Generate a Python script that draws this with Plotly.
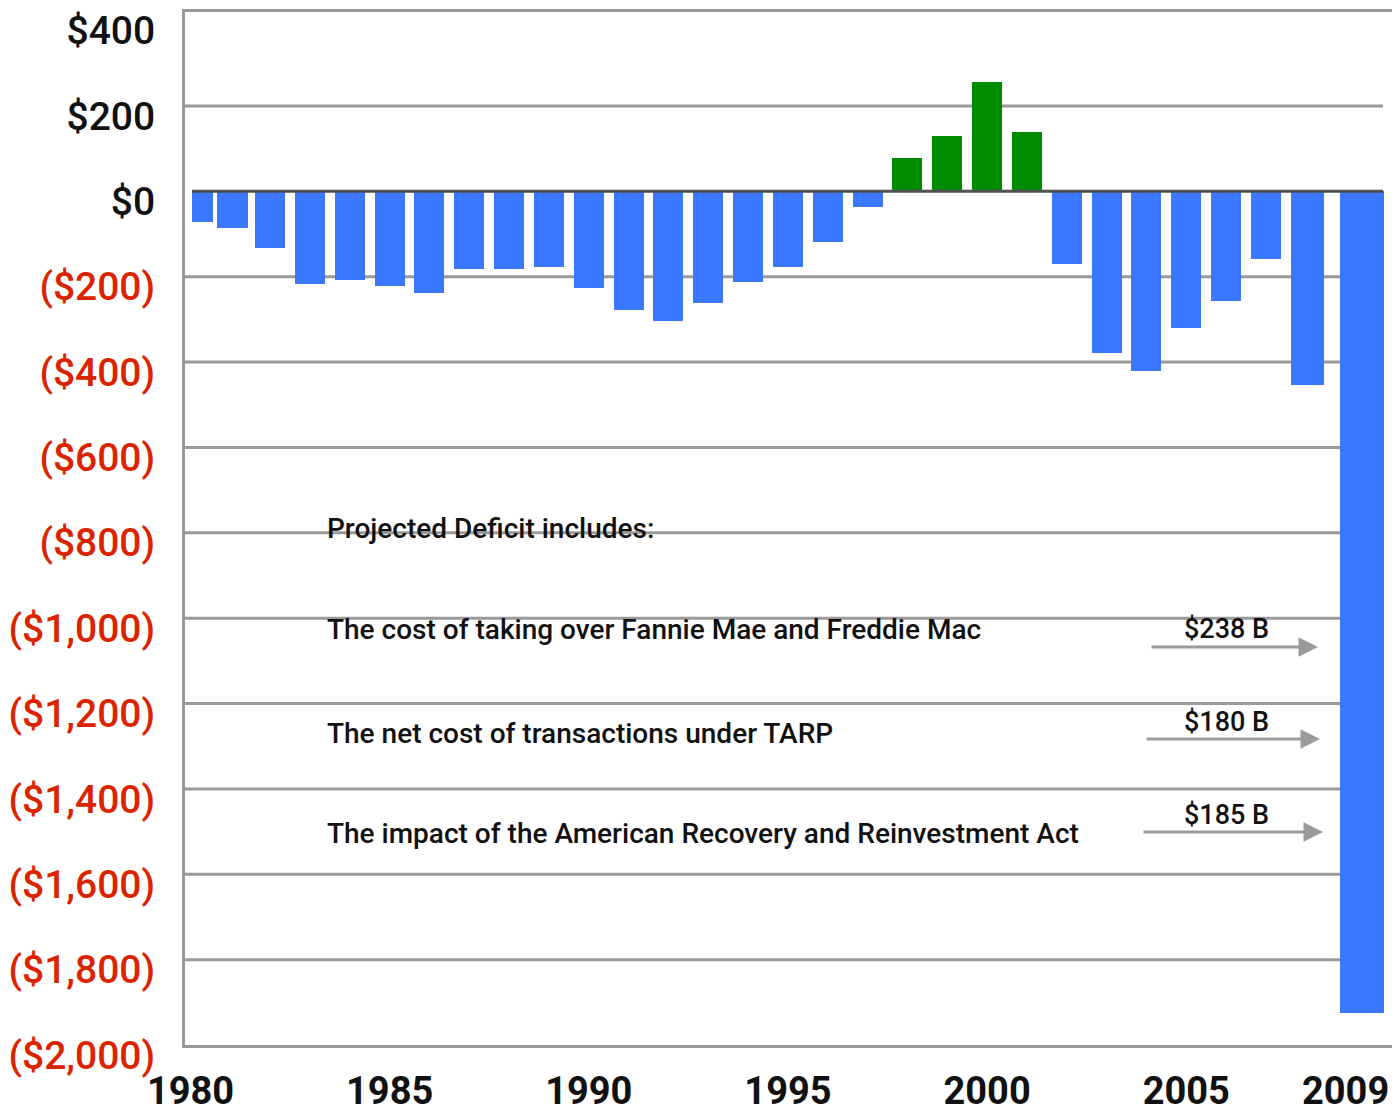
import plotly.graph_objects as go

# ---------------- data ----------------
years = list(range(1980, 2010))
deficits = [-72, -86, -132, -217, -208, -221, -239, -181, -181, -178,
            -226, -277, -303, -261, -213, -178, -118, -36, 77, 130,
            256, 138, -171, -380, -421, -320, -256, -159, -453, -1925]

y_tick_values = [400, 200, 0, -200, -400, -600, -800, -1000, -1200,
                 -1400, -1600, -1800, -2000]
x_tick_values = [1980, 1985, 1990, 1995, 2000, 2005, 2009]

note_title = "Projected Deficit includes:"
note_items = ["The cost of taking over Fannie Mae and Freddie Mac",
              "The net cost of transactions under TARP",
              "The impact of the American Recovery and Reinvestment Act"]
note_amounts = ["$238 B", "$180 B", "$185 B"]

# ---------------- styling ----------------
BODY = 8                      # default page margin around the plot div
W_DIV, H_DIV = 1400 - BODY, 1113 - BODY
P_LEFT, P_RIGHT, P_TOP, P_BOTTOM = 185, 1396, 12, 1045   # plot area on the page
L = P_LEFT - BODY
R = W_DIV + BODY - P_RIGHT
T = P_TOP - BODY
B = H_DIV + BODY - P_BOTTOM

PX_PER_YEAR = 39.83
X_RANGE = [1983 - (310 - P_LEFT) / PX_PER_YEAR, 1983 + (P_RIGHT - 310) / PX_PER_YEAR]
Y_RANGE = [-2000, 420]

BLUE = "#3B78FF"
GREEN = "#008C00"
RED = "#DC2300"
GRID = "#9A9A9A"
FONT = "Roboto, Liberation Sans, sans-serif"

bar_width_px = [21, 31] + [30] * 26 + [33, 44]
bar_offset_px = [1.5, -13.3, -15.2] + [-15] * 25 + [-14.8, -5.6]
widths = [w / PX_PER_YEAR for w in bar_width_px]
offsets = [o / PX_PER_YEAR for o in bar_offset_px]
colors = [GREEN if v > 0 else BLUE for v in deficits]


def fmt(v):
    if v >= 0:
        return f"${v:,}"
    return f'<span style="color:{RED}">(${-v:,})</span>'


fig = go.Figure()
fig.add_trace(go.Bar(x=years, y=deficits, width=widths, offset=offsets,
                     marker=dict(color=colors, line=dict(width=0)),
                     hoverinfo="x+y"))

pw = P_RIGHT - P_LEFT
ph = P_BOTTOM - P_TOP


def px_x(px):
    return (px - P_LEFT) / pw


def px_y(py):
    return (P_BOTTOM - py) / ph


shapes = []
for v in y_tick_values:
    if v in (0, 400, -2000):
        continue
    shapes.append(dict(type="line", xref="paper", yref="y", x0=0, x1=px_x(1383),
                       y0=v, y1=v, line=dict(color=GRID, width=3), layer="below"))
shapes.append(dict(type="line", xref="paper", yref="y", x0=px_x(192), x1=px_x(1383),
                   y0=0, y1=0, line=dict(color="#505050", width=3), layer="above"))

note_font = dict(family=FONT, size=28, color="#111", weight=500)
amt_font = dict(family=FONT, size=27, color="#111", weight=500)
annotations = []
annotations.append(dict(xref="paper", yref="paper", x=px_x(325), y=px_y(528),
                        xanchor="left", yanchor="middle", text=note_title,
                        showarrow=False, font=note_font))
item_y = [629, 733, 834]
amt_y = [629, 722, 815]
arrow_tip = [(1318, 647), (1320, 739), (1323, 832)]
arrow_start = [1150, 1145, 1142]
for i in range(3):
    annotations.append(dict(xref="paper", yref="paper", x=px_x(325), y=px_y(item_y[i]),
                            xanchor="left", yanchor="middle", text=note_items[i],
                            showarrow=False, font=note_font))
    annotations.append(dict(xref="paper", yref="paper", x=px_x(1226), y=px_y(amt_y[i]),
                            xanchor="center", yanchor="middle", text=note_amounts[i],
                            showarrow=False, font=amt_font))
    tx, ty = arrow_tip[i]
    annotations.append(dict(xref="paper", yref="paper", x=px_x(tx), y=px_y(ty),
                            ax=arrow_start[i] - tx, ay=0, text="", showarrow=True,
                            arrowhead=2, arrowsize=1.3, arrowwidth=3, arrowcolor=GRID,
                            standoff=0))

fig.update_layout(
    width=W_DIV, height=H_DIV,
    margin=dict(l=L, r=R, t=T, b=B, pad=0, autoexpand=False),
    paper_bgcolor="white", plot_bgcolor="white",
    showlegend=False,
    shapes=shapes, annotations=annotations,
    bargap=0,
    xaxis=dict(range=X_RANGE, tickvals=x_tick_values,
               ticktext=[str(v) for v in x_tick_values],
               showgrid=False, zeroline=False, showline=True, mirror=True,
               linecolor=GRID, linewidth=3, ticks="", ticklabelstandoff=10,
               automargin=False, ticklabeloverflow="allow",
               tickfont=dict(family=FONT, size=38, color="#111", weight="bold"),
               fixedrange=True),
    yaxis=dict(range=Y_RANGE, tickvals=y_tick_values,
               ticktext=[fmt(v) for v in y_tick_values],
               showgrid=False, zeroline=False, showline=True, mirror=True,
               linecolor=GRID, linewidth=3, ticks="", ticklabelstandoff=19,
               ticklabelshift=10,
               automargin=False, ticklabeloverflow="allow",
               tickfont=dict(family=FONT, size=39, color="#111", weight=500),
               fixedrange=True),
)

fig.write_html("out.html")
